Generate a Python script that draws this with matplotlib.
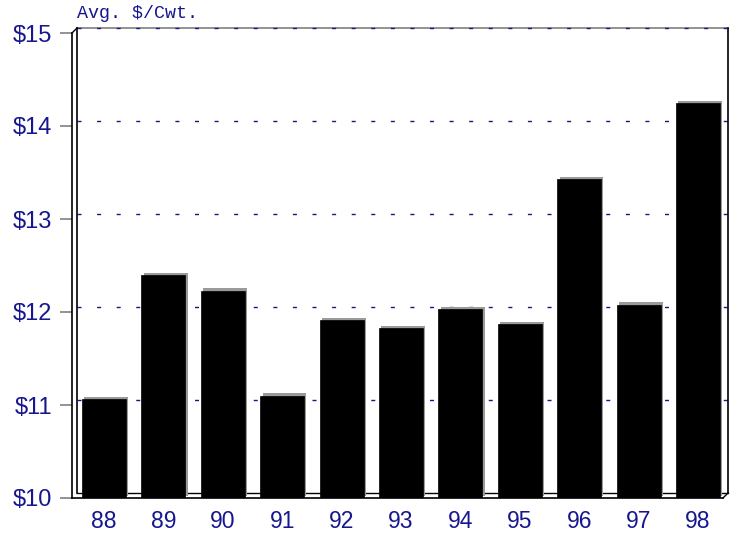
import matplotlib
matplotlib.use("Agg")
import matplotlib.pyplot as plt
import matplotlib.transforms as mtransforms
import matplotlib.patheffects as pe

years = ["88", "89", "90", "91", "92", "93", "94", "95", "96", "97", "98"]
prices = [11.06, 12.40, 12.23, 11.10, 11.91, 11.83, 12.03, 11.87, 13.43, 12.08, 14.25]
yticks = [10, 11, 12, 13, 14, 15]
ytick_labels = ["$10", "$11", "$12", "$13", "$14", "$15"]
title = "Avg. $/Cwt."

navy = "#16168f"
W, H = 740, 534
fig = plt.figure(figsize=(W / 100, H / 100), dpi=100)
L, R, B, T = 72, 723, 498, 33
ax = fig.add_axes([L / W, (H - B) / H, (R - L) / W, (B - T) / H])
ax.set_xlim(-0.54, 10.42)
ax.set_ylim(10, 15)
for s in ax.spines.values():
    s.set_visible(False)

off = mtransforms.ScaledTranslation(5 / 100, 5 / 100, fig.dpi_scale_trans)
back = ax.transAxes + off

# grid on back wall
for v in yticks[1:-1]:
    ax.plot([0, 1], [v, v], transform=mtransforms.blended_transform_factory(ax.transAxes, ax.transData) + off,
            color=navy, lw=1, dashes=(2.9, 11.2), zorder=1, clip_on=False)
# back wall frame
ax.plot([0, 1], [1, 1], transform=back, color="#808080", lw=1.2, clip_on=False, zorder=1)
ax.plot([0, 1], [1, 1], transform=back, color=navy, lw=1, dashes=(2.9, 11.2), clip_on=False, zorder=1.1)
ax.plot([1, 1], [0, 1], transform=back, color="black", lw=1.2, clip_on=False, zorder=1)
ax.plot([0, 0], [0, 1], transform=back, color="black", lw=1.2, clip_on=False, zorder=3)
ax.plot([0, 1], [0, 0], transform=back, color="black", lw=1, clip_on=False, zorder=1)

# bars
bars = ax.bar(range(len(years)), [p - 10 for p in prices], bottom=10, width=0.74,
              color="black", edgecolor="black", linewidth=0.5, zorder=2)
for b in bars:
    b.set_path_effects([pe.SimplePatchShadow(offset=(1.6, 1.6), shadow_rgbFace="#9a9a9a", alpha=1.0),
                        pe.Normal()])

# front edges
ax.plot([0, 0], [0, 1], transform=ax.transAxes, color="black", lw=1.2, clip_on=False, zorder=3)
ax.plot([0, 1], [0, 0], transform=ax.transAxes, color="black", lw=1.2, clip_on=False, zorder=3)
# connectors
def px(x, y):
    return fig.transFigure.inverted().transform((x, H - y))
for (x0, y0), (x1, y1) in [((L, T), (L + 5, T - 5)), ((R, B), (R + 5, B - 5))]:
    a = px(x0, y0); b2 = px(x1, y1)
    fig.add_artist(plt.Line2D([a[0], b2[0]], [a[1], b2[1]], transform=fig.transFigure,
                              color="black", lw=1, zorder=3))

ax.set_yticks(yticks)
ax.set_yticklabels(ytick_labels)
ax.set_xticks(range(len(years)))
ax.set_xticklabels(years)
ax.tick_params(axis="y", length=9, width=1.2, color="#808080", pad=5,
               labelsize=17, labelcolor=navy)
ax.tick_params(axis="x", length=0, pad=9, labelsize=16.5, labelcolor=navy)
for lab in ax.get_xticklabels() + ax.get_yticklabels():
    lab.set_fontfamily("Liberation Sans")

fig.text(77 / W, (H - 14) / H, title, family="Liberation Mono", fontsize=13.2,
         color=navy, va="center", ha="left")

fig.savefig("out.png", dpi=100)
